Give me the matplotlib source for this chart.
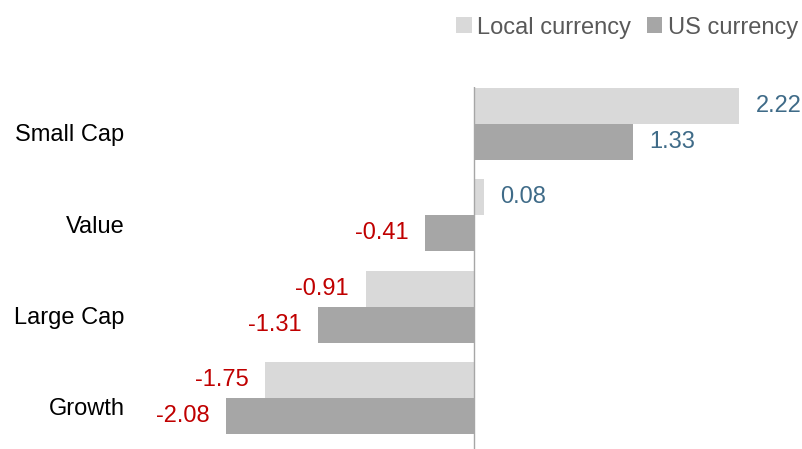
import matplotlib
matplotlib.use("Agg")
import matplotlib.pyplot as plt
from matplotlib.patches import Patch
from matplotlib.transforms import ScaledTranslation

plt.rcParams['font.family'] = ['Liberation Sans', 'DejaVu Sans']

categories = ["Small Cap", "Value", "Large Cap", "Growth"]
local_vals = [2.22, 0.08, -0.91, -1.75]
us_vals = [1.33, -0.41, -1.31, -2.08]
series_names = ["Local currency", "US currency"]

c_local = "#D9D9D9"
c_us = "#A6A6A6"
c_pos = "#3F6B88"
c_neg = "#C00000"

fig = plt.figure(figsize=(8.02, 4.49), dpi=100)
W, H = 802, 449
left_px, right_px = 226, 739
top_px, bot_px = 87, 449
ax = fig.add_axes([left_px / W, 1 - bot_px / H, (right_px - left_px) / W, (bot_px - top_px) / H])

h = 0.395
ys = list(range(len(categories)))
for i, (lv, uv) in enumerate(zip(local_vals, us_vals)):
    for val, yc, col in ((lv, i - h / 2, c_local), (uv, i + h / 2, c_us)):
        ax.barh(yc, val, height=h, color=col, edgecolor='none')
        if val >= 0:
            ax.annotate(f"{val:.2f}", (val, yc), xytext=(12, 0), textcoords='offset points',
                        ha='left', va='center', fontsize=17, color=c_pos, annotation_clip=False)
        else:
            ax.annotate(f"{val:.2f}", (val, yc), xytext=(-12, 0), textcoords='offset points',
                        ha='right', va='center', fontsize=17, color=c_neg, annotation_clip=False)

ax.set_xlim(-2.08, 2.22)
ax.set_ylim(3.56, -0.405)
ax.axvline(0, color="#A6A6A6", lw=1.0)
for s in ax.spines.values():
    s.set_visible(False)
ax.set_xticks([])
ax.set_yticks(ys)
ax.set_yticklabels(categories, fontsize=17, color='black')
ax.tick_params(axis='y', length=0, pad=73)
off = ScaledTranslation(0, -9 / 100, fig.dpi_scale_trans)
for lab in ax.get_yticklabels():
    lab.set_transform(lab.get_transform() + off)

handles = [Patch(facecolor=c_local, edgecolor='none'), Patch(facecolor=c_us, edgecolor='none')]
leg = fig.legend(handles, series_names, loc='upper right', bbox_to_anchor=(1.016, 1.0),
                 ncol=2, frameon=False, fontsize=17, handlelength=0.65, handleheight=0.65,
                 handletextpad=0.25, columnspacing=0.65, borderaxespad=0.3)
for t in leg.get_texts():
    t.set_color("#595959")

fig.savefig("out.png", dpi=100)
